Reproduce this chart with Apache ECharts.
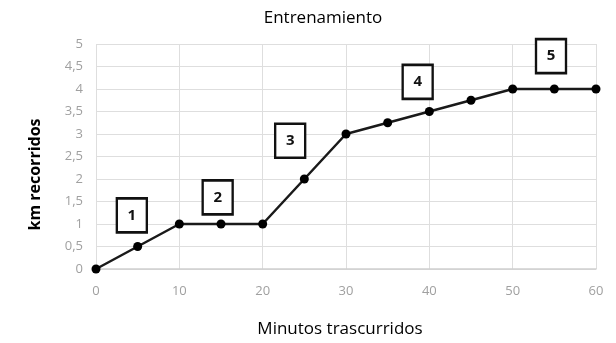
<!DOCTYPE html>
<html>
<head>
<meta charset="utf-8">
<script src="https://cdn.jsdelivr.net/npm/echarts@6/dist/echarts.min.js"></script>
<style>
  html, body { margin: 0; padding: 0; background: #fff; }
  #chart { width: 616px; height: 343px; }
</style>
</head>
<body>
<div id="chart"></div>
<script>
// Minutes elapsed and kilometres covered
const minutes = [0, 5, 10, 15, 20, 25, 30, 35, 40, 45, 50, 55, 60];
const km = [0, 0.5, 1, 1, 1, 2, 3, 3.25, 3.5, 3.75, 4, 4, 4];

// Numbered stage tags placed along the route (x in minutes, y in km)
const stageNames = ['1', '2', '3', '4', '5'];
const stageX = [4.3, 14.6, 23.3, 38.6, 54.6];
const stageY = [1.19, 1.59, 2.85, 4.16, 4.73];

const chart = echarts.init(document.getElementById('chart'));
const font = '"Open Sans", "Liberation Sans", sans-serif';

chart.setOption({
  animation: false,
  title: {
    text: 'Entrenamiento',
    left: 318,
    textAlign: 'center',
    top: 5,
    textStyle: { fontFamily: font, fontSize: 17, fontWeight: 'normal', color: '#000' }
  },
  grid: { left: 96, right: 20, top: 44, bottom: 73 },
  xAxis: {
    type: 'value',
    min: 0, max: 60, interval: 10,
    name: 'Minutos trascurridos',
    nameLocation: 'middle',
    nameGap: 52,
    nameTextStyle: { fontFamily: font, fontSize: 17, color: '#000', padding: [0, 12, 0, 0] },
    axisLine: { show: true, lineStyle: { color: '#cfcfcf', width: 1.5 } },
    axisTick: { show: false },
    axisLabel: { fontFamily: font, fontSize: 13, color: '#a0a0a0', margin: 16 },
    splitLine: { show: true, lineStyle: { color: '#dedede', width: 1 } }
  },
  yAxis: {
    type: 'value',
    min: 0, max: 5, interval: 0.5,
    name: 'km recorridos',
    nameLocation: 'middle',
    nameGap: 53,
    nameTextStyle: { fontFamily: font, fontSize: 16, fontWeight: 'bold', color: '#000', padding: [0, 36, 0, 0] },
    axisLine: { show: false },
    axisTick: { show: false },
    axisLabel: {
      fontFamily: font, fontSize: 13, color: '#a0a0a0', margin: 13,
      formatter: v => String(v).replace('.', ',')
    },
    splitLine: { show: true, lineStyle: { color: '#dedede', width: 1 } }
  },
  series: [
    {
      type: 'line',
      data: minutes.map((m, i) => [m, km[i]]),
      symbol: 'circle',
      symbolSize: 9,
      lineStyle: { color: '#1a1a1a', width: 2.5 },
      itemStyle: { color: '#000' },
      z: 3
    },
    {
      type: 'scatter',
      data: stageNames.map((n, i) => ({ value: [stageX[i], stageY[i]], name: n })),
      symbol: 'rect',
      symbolSize: [30, 34],
      itemStyle: { color: '#fff', borderColor: '#111', borderWidth: 2.5, opacity: 1 },
      label: {
        show: true,
        position: 'inside',
        formatter: p => p.name,
        fontFamily: font,
        fontSize: 15,
        fontWeight: 'bold',
        color: '#111'
      },
      z: 4
    }
  ]
});
</script>
</body>
</html>
